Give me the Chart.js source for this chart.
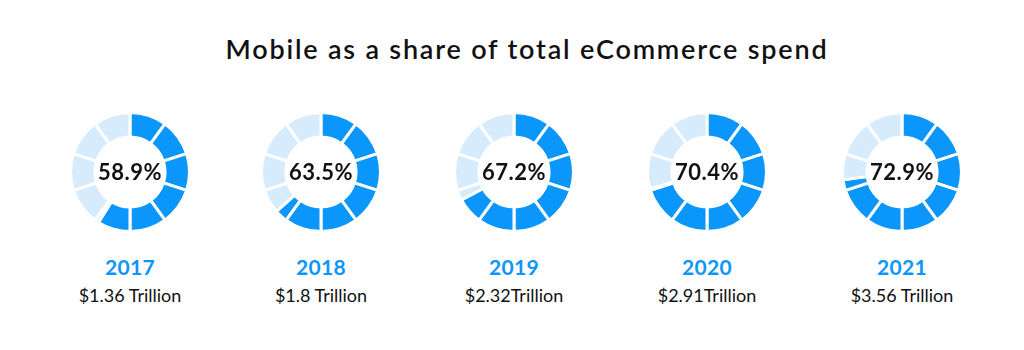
<!DOCTYPE html>
<html>
<head>
<meta charset="utf-8">
<script src="https://cdn.jsdelivr.net/npm/chart.js@4"></script>
<style>
  body { margin: 0; background: #fff; font-family: Lato, "Open Sans", sans-serif; }
  #wrap { position: relative; width: 1024px; height: 350px; overflow: hidden; }
  #title { position: absolute; left: 0; width: 1054px; top: 32px; text-align: center;
           font-size: 27px; font-weight: 600; color: #111; letter-spacing: 1.8px; }
  .item { position: absolute; top: 111px; width: 180px; text-align: center; }
  .item canvas { display: block; margin: 0 auto; }
  .pct { position: absolute; left: 0; width: 180px; top: 47px; font-size: 22px; font-weight: 700;
         color: #111; letter-spacing: 0.5px; }
  .year { margin-top: 21px; font-size: 21px; font-weight: 700; color: #0a96fb; letter-spacing: 0.3px; }
  .spend { margin-top: 5px; font-size: 18px; color: #111; }
</style>
</head>
<body>
<div id="wrap">
  <div id="title">Mobile as a share of total eCommerce spend</div>
</div>
<script>
// Data
const years = ['2017', '2018', '2019', '2020', '2021'];
const mobileShare = [58.9, 63.5, 67.2, 70.4, 72.9];
const spendLabels = ['$1.36 Trillion', '$1.8 Trillion', '$2.32Trillion', '$2.91Trillion', '$3.56 Trillion'];

const BLUE = '#0a96fb';
const LIGHT = '#d6ecfc';
const centers = [130, 321, 514, 707, 902];

// split the ring into 10 slices of 10%, the partly filled slice in two
function slices(share) {
  const vals = [], cols = [];
  for (let i = 0; i < 10; i++) {
    const filled = Math.max(0, Math.min(10, share - i * 10));
    if (filled >= 10) { vals.push(10); cols.push(BLUE); }
    else if (filled <= 0) { vals.push(10); cols.push(LIGHT); }
    else { vals.push(filled, 10 - filled); cols.push(BLUE, LIGHT); }
  }
  return { vals, cols };
}

const wrap = document.getElementById('wrap');
years.forEach((yr, i) => {
  const item = document.createElement('div');
  item.className = 'item';
  item.style.left = (centers[i] - 90) + 'px';
  item.innerHTML = '<canvas width="122" height="122"></canvas>' +
    '<div class="pct">' + mobileShare[i] + '%</div>' +
    '<div class="year">' + yr + '</div>' +
    '<div class="spend">' + spendLabels[i] + '</div>';
  wrap.appendChild(item);

  const s = slices(mobileShare[i]);
  new Chart(item.querySelector('canvas'), {
    type: 'doughnut',
    data: {
      datasets: [{
        data: s.vals,
        backgroundColor: s.cols,
        borderColor: '#fff',
        borderWidth: 3
      }]
    },
    options: {
      responsive: false,
      animation: false,
      cutout: '59%',
      plugins: {
        legend: { display: false },
        tooltip: { enabled: false }
      }
    }
  });
});
</script>
</body>
</html>
